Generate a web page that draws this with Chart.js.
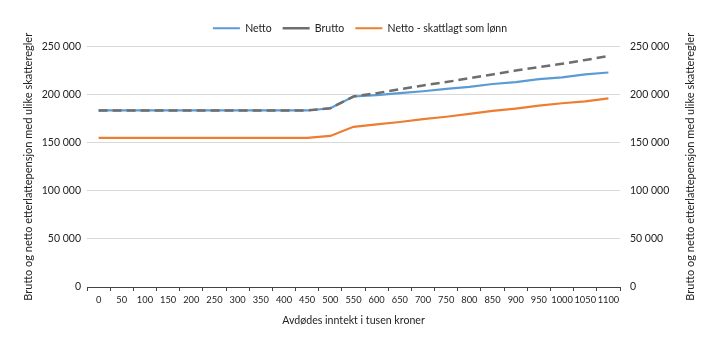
<!DOCTYPE html>
<html>
<head>
<meta charset="utf-8">
<script src="https://cdn.jsdelivr.net/npm/chart.js@4"></script>
<style>
  body { margin: 0; background: #fff; }
</style>
</head>
<body>
<canvas id="chart" width="720" height="341"></canvas>
<script>
// Avdødes inntekt (tusen kroner)
const inntekt = ['0', '50', '100', '150', '200', '250', '300', '350', '400', '450', '500', '550',
	'600', '650', '700', '750', '800', '850', '900', '950', '1000', '1050', '1100'];

const netto = [183500, 183500, 183500, 183500, 183500, 183500, 183500, 183500, 183500, 183500, 185800, 198000,
	199500, 201500, 203500, 206000, 208000, 211000, 213000, 216000, 218000, 221000, 223000];
const brutto = [183500, 183500, 183500, 183500, 183500, 183500, 183500, 183500, 183500, 183500, 185800, 198000,
	201500, 205500, 209500, 213000, 217000, 221000, 225000, 228500, 232000, 236000, 240000];
const nettoLonn = [155000, 155000, 155000, 155000, 155000, 155000, 155000, 155000, 155000, 155000, 157000, 166500,
	169000, 171500, 174500, 177000, 180000, 183000, 185500, 188500, 191000, 193000, 196000];

const yTicks = [0, 50000, 100000, 150000, 200000, 250000];

const fmt = v => v === 0 ? '0' : Math.floor(v / 1000) + ' ' + String(v % 1000).padStart(3, '0');
const yTitle = 'Brutto og netto etterlattepensjon med ulike skatteregler';

Chart.defaults.color = '#222';
Chart.defaults.font.family = 'Lato';

// both y titles read bottom-to-top, so draw them by hand
const sideTitles = {
	id: 'sideTitles',
	afterDraw(chart) {
		const c = chart.ctx;
		const a = chart.chartArea;
		const mid = (a.top + a.bottom) / 2;
		c.save();
		c.font = '11px Lato';
		c.fillStyle = '#222';
		c.textAlign = 'center';
		c.textBaseline = 'middle';
		[28, 690].forEach(x => {
			c.save();
			c.translate(x, mid);
			c.rotate(-Math.PI / 2);
			c.fillText(yTitle, 0, 0);
			c.restore();
		});
		c.restore();
	}
};

// a little more room under the legend
const legendGap = {
	id: 'legendGap',
	beforeInit(chart) {
		const fit = chart.legend.fit;
		chart.legend.fit = function () {
			fit.call(this);
			this.height += 3;
		};
	}
};

const ctx = document.getElementById('chart').getContext('2d');
const chart = new Chart(ctx, {
	type: 'line',
	data: {
		labels: inntekt,
		datasets: [{
			label: 'Netto',
			data: netto,
			borderColor: '#5b9bd5',
			backgroundColor: '#5b9bd5',
			borderWidth: 2.2,
			order: 2
		}, {
			label: 'Brutto',
			data: brutto,
			borderColor: '#6e6e6e',
			backgroundColor: '#6e6e6e',
			borderWidth: 2.5,
			borderDash: [9, 5],
			order: 1
		}, {
			label: 'Netto - skattlagt som lønn',
			data: nettoLonn,
			borderColor: '#ed7d31',
			backgroundColor: '#ed7d31',
			borderWidth: 2.2,
			order: 3
		}]
	},
	plugins: [sideTitles, legendGap],
	options: {
		responsive: false,
		animation: false,
		elements: { point: { radius: 0 }, line: { tension: 0 } },
		layout: { padding: { top: 12, bottom: 10 } },
		plugins: {
			tooltip: { enabled: false },
			legend: {
				position: 'top',
				labels: {
					font: { family: 'Lato', size: 10.5 },
					color: '#222',
					usePointStyle: true,
					pointStyle: 'line',
					pointStyleWidth: 27,
					boxHeight: 11,
					padding: 11,
					sort: (a, b) => a.datasetIndex - b.datasetIndex
				}
			}
		},
		scales: {
			x: {
				offset: true,
				grid: {
					offset: true,
					drawOnChartArea: false,
					drawTicks: true,
					tickLength: 4,
					color: '#444'
				},
				border: { color: '#444', width: 1 },
				ticks: { font: { family: 'Lato', size: 9.3 }, color: '#222', maxRotation: 0, autoSkip: false, padding: 3 },
				title: { display: true, text: 'Avdødes inntekt i tusen kroner', font: { family: 'Lato', size: 10.6 }, color: '#222', padding: { top: 9 } },
				afterFit: s => { s.height = 44; }
			},
			y: {
				position: 'left',
				min: 0,
				max: 250000,
				afterBuildTicks: s => { s.ticks = yTicks.map(v => ({ value: v })); },
				grid: { color: '#d9d9d9', drawTicks: false },
				border: { display: false },
				ticks: { font: { family: 'Lato', size: 10.5 }, color: '#222', padding: 6, callback: v => fmt(v) },
				afterFit: s => { s.width = 87; }
			},
			y2: {
				position: 'right',
				min: 0,
				max: 250000,
				afterBuildTicks: s => { s.ticks = yTicks.map(v => ({ value: v })); },
				grid: { drawOnChartArea: false, drawTicks: false },
				border: { display: false },
				ticks: { font: { family: 'Lato', size: 10.5 }, color: '#222', padding: 10, callback: v => fmt(v) },
				afterFit: s => { s.width = 100; }
			}
		}
	}
});
</script>
</body>
</html>
